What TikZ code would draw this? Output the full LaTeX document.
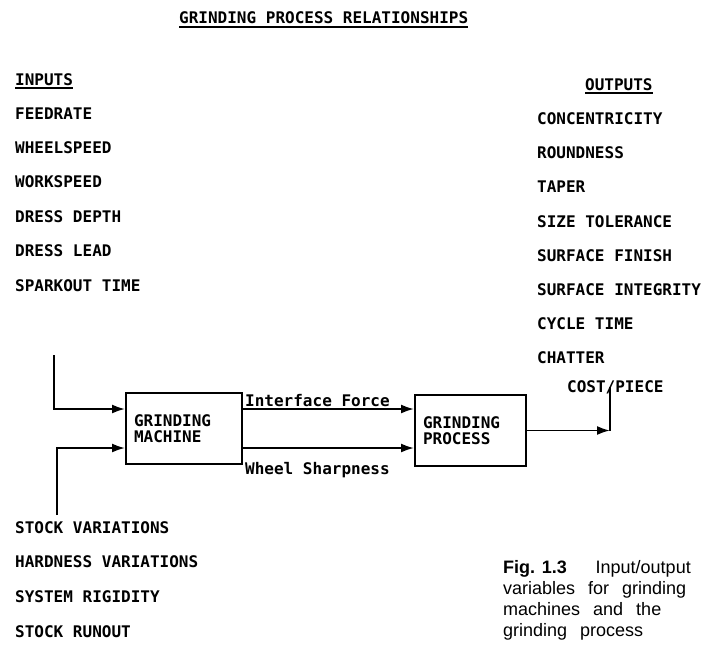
\documentclass[tikz,border=0pt]{standalone}
\usepackage{fontspec}
\setmonofont{DejaVu Sans Mono}
\setsansfont{Liberation Sans}
\usetikzlibrary{arrows.meta}

\begin{document}
\begin{tikzpicture}[x = 1pt, y = -1pt,
	word/.style = {anchor = base west, inner sep = 0pt, font = \fontsize{16}{16}\selectfont\ttfamily\bfseries},
	block/.style = {draw, line width = 2pt, anchor = north west, minimum height = 71pt, inner xsep = 8pt, inner ysep = 0pt, align = left, font = \fontsize{16}{16}\selectfont\ttfamily\bfseries},
	wire/.style = {line width = 1.9pt},
	flow/.style = {wire, -{Latex[length = 13pt, width = 9pt]}}]
	\useasboundingbox (0,0) rectangle (704,646);

	% headings
	\node[word] (title) at (179,23) {GRINDING PROCESS RELATIONSHIPS};
	\node[word] (inputs) at (15,85) {INPUTS};
	\node[word] (outputs) at (585,90) {OUTPUTS};
	\draw[wire] ([yshift = -4pt]title.base west) -- ([yshift = -4pt]title.base east);
	\draw[wire] ([yshift = -3pt]inputs.base west) -- ([yshift = -3pt]inputs.base east);
	\draw[wire] ([yshift = -3pt]outputs.base west) -- ([yshift = -3pt]outputs.base east);

	% variable lists
	\foreach \txt [count = \i] in {FEEDRATE, WHEELSPEED, WORKSPEED, DRESS DEPTH, DRESS LEAD, SPARKOUT TIME}
		\node[word] (in\i) at (15, {119 + 34.4*(\i - 1)}) {\txt};
	\foreach \txt [count = \i] in {CONCENTRICITY, ROUNDNESS, TAPER, SIZE TOLERANCE, SURFACE FINISH, SURFACE INTEGRITY, CYCLE TIME, CHATTER}
		\node[word] (out\i) at (537, {124.5 + 34.2*(\i - 1)}) {\txt};
	\node[word] (cost) at (567,392) {COST/PIECE};
	\foreach \txt [count = \i] in {STOCK VARIATIONS, HARDNESS VARIATIONS, SYSTEM RIGIDITY, STOCK RUNOUT}
		\node[word] (dist\i) at (15, {533 + 34.7*(\i - 1)}) {\txt};

	% blocks
	\node[block, minimum width = 116pt, text width = 100pt] (machine) at (125,392) {GRINDING\\MACHINE};
	\node[block, minimum width = 111pt, text width = 95pt] (process) at (414,394) {GRINDING\\PROCESS};

	% connectors
	\coordinate (top) at (54,355);
	\coordinate (bottom) at (57,515);
	\coordinate (force) at ([yshift = 19.5pt]machine.east);
	\coordinate (sharp) at ([yshift = -19.5pt]machine.east);
	\coordinate (end) at (610,387);
	\draw[flow] (top) |- (machine.west |- force);
	\draw[flow] (bottom) |- (machine.west |- sharp);
	\draw[flow] (force) -- (force -| process.west);
	\draw[flow] (sharp) -- (sharp -| process.west);
	\draw[flow] (process.east) -- (process.east -| end);
	\draw[wire] (process.east -| end) -- (end);
	\node[word] (forcetext) at ([xshift = 2pt, yshift = 3pt]force) {Interface Force};
	\node[word] (sharptext) at ([xshift = 2pt, yshift = -26pt]sharp) {Wheel Sharpness};

	% caption
	\node[anchor = base west, inner sep = 0pt, align = left, font = \fontsize{18}{21}\selectfont\sffamily] (caption) at (503,636)
		{\textbf{Fig. 1.3}\hspace{1.6em}Input/output\\\spaceskip = 13pt\relax variables for grinding\\\spaceskip = 13pt\relax machines and the\\\spaceskip = 13pt\relax grinding process};
\end{tikzpicture}
\end{document}
